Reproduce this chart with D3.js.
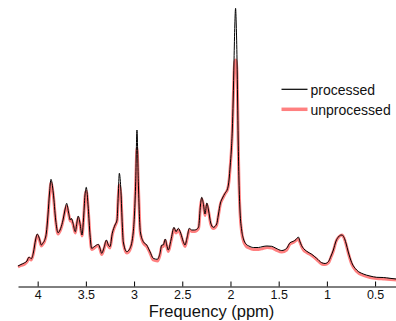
<!DOCTYPE html>
<html>
<head>
<meta charset="utf-8">
<script src="https://cdn.jsdelivr.net/npm/d3@7"></script>
<style>
  html, body { margin: 0; padding: 0; background: #fff; }
  svg { display: block; font-family: "Liberation Sans", Arial, Helvetica, sans-serif; }
</style>
</head>
<body>
<svg id="chart" width="396" height="321"></svg>
<script>
// Chemical shift positions (ppm)
const ppm = [4.204,4.173,4.134,4.111,4.090,4.066,4.043,4.022,4.004,3.983,3.962,3.945,3.929,3.910,3.893,3.877,3.862,3.838,3.813,3.789,
3.761,3.737,3.717,3.699,3.678,3.661,3.651,3.633,3.610,3.592,3.579,3.561,3.540,3.525,3.509,3.496,3.475,3.457,3.440,3.413,
3.388,3.371,3.353,3.336,3.309,3.288,3.267,3.250,3.226,3.198,3.177,3.164,3.153,3.136,3.122,3.112,3.076,3.042,3.008,2.983,
2.970,2.956,2.935,2.904,2.869,2.835,2.801,2.759,2.731,2.713,2.697,2.676,2.661,2.645,2.617,2.586,2.565,2.541,2.516,2.489,
2.472,2.448,2.427,2.402,2.375,2.350,2.330,2.311,2.298,2.282,2.264,2.245,2.228,2.205,2.178,2.143,2.126,2.104,2.083,2.057,
2.029,2.015,2.003,1.991,1.981,1.972,1.963,1.955,1.947,1.940,1.932,1.926,1.920,1.912,1.901,1.884,1.865,1.839,1.808,1.763,
1.711,1.663,1.621,1.572,1.528,1.468,1.417,1.382,1.348,1.320,1.296,1.279,1.263,1.242,1.209,1.157,1.106,1.054,1.019,0.985,
0.957,0.933,0.905,0.881,0.859,0.843,0.822,0.802,0.778,0.743,0.691,0.622,0.553,0.483,0.415,0.345,0.283];

// Processed spectrum intensity (a.u.)
const processed = [21,22.5,24.3,26,30,28.3,35,47,53,48.7,42,44,46.5,54,72,94,107.7,94,67,54.3,
58.7,67,77,83.7,73.7,67,68.7,63.7,55.3,65,71,63.7,52,67,92,99.7,78.7,52,38.7,40.3,
42,42.7,38.7,33.7,40.3,47,42,40.3,53.7,62,67,92,113.7,95.3,62,45.3,35.3,38.7,55.3,105.3,
157,105.3,55.3,45.3,42,35.3,28.7,27.7,33.7,42,42,48,42,37,47,59.7,55.3,58.7,53.7,45.3,
42,50.3,58.7,57,57,57.7,60.3,82,89.7,83.7,73,84,77,64,59.7,63,72,84,89,93.7,
98.7,107,121,137,157,187,227,262,278.7,262,227,187,147,107,76,57,48,43,41,39.5,
39.5,40.5,41,40.7,38.7,36.5,38.7,44.3,45.7,47.5,50,45.3,41.5,38.5,35.7,32.7,28.7,24.3,23.5,25.3,
31,37,46,50,51.8,52,49.5,44,35,24.5,17,13,11,9.7,9.5,8.7,8];

// Unprocessed spectrum intensity (a.u.)
const unprocessed = [20,21.5,23,25,29,27,34,46,51.5,47.5,41,43,45.5,53,71,92,104,92,66,53,
57.5,66,76,81,72.5,66,67,62.5,54,64,69,62.5,51,66,90,96,77,51,37.5,39,
41,41.5,37.5,32.5,39,45.5,41,39,52.5,61,66,90,102,91,61,44,34,37.5,54,104,
139,104,54,44,40.5,34,27,26,32,40.5,40.5,46.5,40.5,35.5,45.5,58,54,57,52.5,44,
40.5,49,57,55.5,55.5,56.5,59,81,88,82.5,71.5,82.5,76,63,58.5,62,71,83,88,93,
98,106,120,136,156,185,214,225,227,225,214,185,146,106,74.5,55,46,41,39,37.5,
37.5,38.5,39.5,39,37,35,37,43,44.5,46.5,48,44.5,40.5,37,34.5,31.5,27.5,23,22.5,24,
30,36,45.5,49.5,51.5,52,49,43,34,23,15.5,11.5,9.5,8.5,8,7.5,7];

const tickValues = [4, 3.5, 3, 2.5, 2, 1.5, 1, 0.5];
const seriesNames = ["processed", "unprocessed"];
const seriesColors = ["#000000", "#ff8080"];

const svg = d3.select("#chart");

const x = d3.scaleLinear().domain([4.204, 0.283]).range([18, 396]);
const y = d3.scaleLinear().domain([0, 280]).range([287, 7]);

const axisY = 286.5;
const axis = d3.axisBottom(x)
  .tickValues(tickValues)
  .tickFormat(d3.format("~g"))
  .tickSizeInner(-5)
  .tickSizeOuter(0)
  .tickPadding(4);

const gAxis = svg.append("g")
  .attr("transform", `translate(0,${axisY})`)
  .call(axis);
gAxis.select(".domain").attr("stroke", "#000").attr("stroke-width", 1);
gAxis.selectAll(".tick line").attr("stroke", "#000");
gAxis.selectAll(".tick text")
  .attr("fill", "#111")
  .attr("font-size", 12.5)
  .attr("font-family", "'Liberation Sans', Arial, sans-serif");

svg.append("text")
  .attr("x", 211.5)
  .attr("y", 317)
  .attr("text-anchor", "middle")
  .attr("font-size", 16.5)
  .attr("fill", "#111")
  .text("Frequency (ppm)");

const line = (vals) => d3.line()
  .x((d, i) => x(ppm[i]))
  .y(d => y(d))
  .curve(d3.curveMonotoneX)(vals);

svg.append("path")
  .attr("d", line(unprocessed))
  .attr("fill", "none")
  .attr("stroke", seriesColors[1])
  .attr("stroke-width", 3)
  .attr("stroke-linejoin", "round");

svg.append("path")
  .attr("d", line(processed))
  .attr("fill", "none")
  .attr("stroke", seriesColors[0])
  .attr("stroke-width", 1)
  .attr("stroke-linejoin", "round");

// Legend
const legend = svg.append("g");
seriesNames.forEach((name, i) => {
  const cy = 89.3 + i * 20;
  legend.append("line")
    .attr("x1", 281.5).attr("x2", 307.5)
    .attr("y1", cy).attr("y2", cy)
    .attr("stroke", seriesColors[i])
    .attr("stroke-width", i === 0 ? 1.2 : 3.5);
  legend.append("text")
    .attr("x", 310.5)
    .attr("y", cy + 5.5)
    .attr("font-size", 14)
    .attr("fill", "#111")
    .text(name);
});
</script>
</body>
</html>
